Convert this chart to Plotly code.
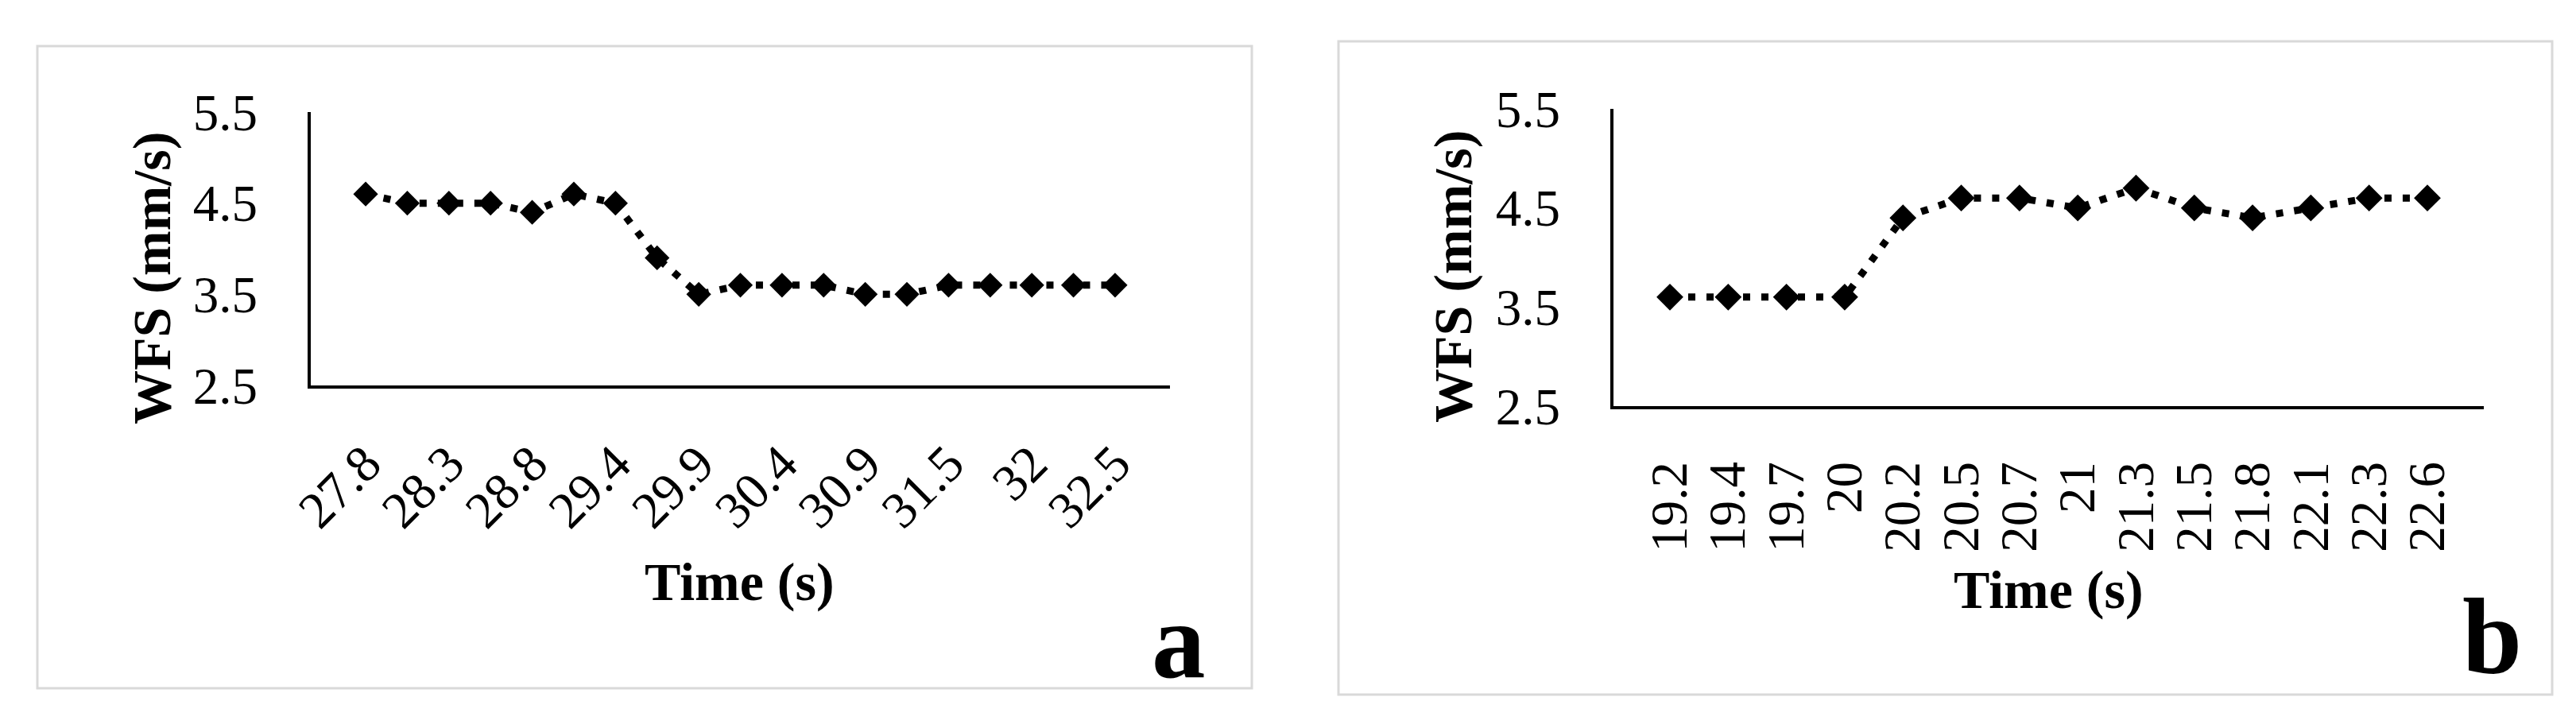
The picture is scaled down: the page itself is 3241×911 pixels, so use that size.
import plotly.graph_objects as go

# panel a
time_a = ["27.8", "28.1", "28.3", "28.6", "28.8", "29.1", "29.4", "29.6", "29.9", "30.1",
          "30.4", "30.7", "30.9", "31.2", "31.5", "31.7", "32", "32.2", "32.5"]
wfs_a = [4.6, 4.5, 4.5, 4.5, 4.4, 4.6, 4.5, 3.9, 3.5, 3.6,
         3.6, 3.6, 3.5, 3.5, 3.6, 3.6, 3.6, 3.6, 3.6]
ticks_a = time_a[::2]

# panel b
time_b = ["19.2", "19.4", "19.7", "20", "20.2", "20.5", "20.7",
          "21", "21.3", "21.5", "21.8", "22.1", "22.3", "22.6"]
wfs_b = [3.6, 3.6, 3.6, 3.6, 4.4, 4.6, 4.6, 4.5, 4.7, 4.5, 4.4, 4.5, 4.6, 4.6]

y_ticks = [2.5, 3.5, 4.5, 5.5]

W, H = 3241, 911
FONT = "Liberation Serif"


def px(x):
    return x / W


def py(y):
    return 1 - y / H


fig = go.Figure()

fig.add_trace(go.Scatter(
    x=time_a, y=wfs_a, mode="lines+markers",
    line=dict(color="black", width=9, dash="9px,14px"),
    marker=dict(symbol="diamond", size=24, color="black"),
    xaxis="x", yaxis="y", showlegend=False
))
fig.add_trace(go.Scatter(
    x=time_b, y=wfs_b, mode="lines+markers",
    line=dict(color="black", width=9, dash="9px,14px"),
    marker=dict(symbol="diamond", size=26, color="black"),
    xaxis="x2", yaxis="y2", showlegend=False
))

tick_font = dict(family=FONT, size=65, color="black")
title_font = dict(family=FONT, size=68, color="black")

xcommon = dict(type="category", showline=True, linecolor="black", linewidth=4,
               showgrid=False, zeroline=False, ticks="", tickfont=tick_font,
               automargin=False)
ycommon = dict(range=[2.5, 5.5], tickvals=y_ticks, tickformat=".1f",
               showline=True, linecolor="black", linewidth=4,
               showgrid=False, zeroline=False, ticks="", tickfont=tick_font,
               ticklabelstandoff=50, automargin=False)

fig.update_layout(
    width=W, height=H,
    margin=dict(l=0, r=0, t=0, b=0, pad=0),
    paper_bgcolor="white", plot_bgcolor="white",
    xaxis=dict(xcommon, domain=[px(383), px(1464)], anchor="y",
               tickvals=ticks_a, ticktext=ticks_a, tickangle=-45,
               ticklabelstandoff=30),
    yaxis=dict(ycommon, domain=[py(477), py(133)], anchor="x"),
    xaxis2=dict(xcommon, domain=[px(2022), px(3117)], anchor="y2",
                tickvals=time_b, ticktext=time_b,
                tickangle=-90, ticklabelstandoff=40),
    yaxis2=dict(ycommon, domain=[py(503), py(129)], anchor="x2"),
)

# panel frames
for x0, x1, y0, y1 in [(39, 1567, 50, 858), (1676, 3203, 44, 866)]:
    fig.add_shape(type="rect", xref="paper", yref="paper",
                  x0=px(x0), x1=px(x1), y0=py(y1), y1=py(y0),
                  line=dict(color="#d9d9d9", width=3), fillcolor="rgba(0,0,0,0)")

ann = [
    dict(text="<b>WFS (mm/s)</b>", x=px(183), y=py(342), textangle=-90, font=title_font),
    dict(text="<b>WFS (mm/s)</b>", x=px(1820), y=py(340), textangle=-90, font=title_font),
    dict(text="<b>Time (s)</b>", x=px(922), y=py(724), font=title_font),
    dict(text="<b>Time (s)</b>", x=px(2569), y=py(734), font=title_font),
    dict(text="<b>a</b>", x=px(1475), y=py(798), font=dict(family=FONT, size=135, color="black")),
    dict(text="<b>b</b>", x=px(3127), y=py(792), font=dict(family=FONT, size=135, color="black")),
]
for a in ann:
    fig.add_annotation(xref="paper", yref="paper", showarrow=False,
                       xanchor="center", yanchor="middle", **a)

fig.write_html("out.html")
